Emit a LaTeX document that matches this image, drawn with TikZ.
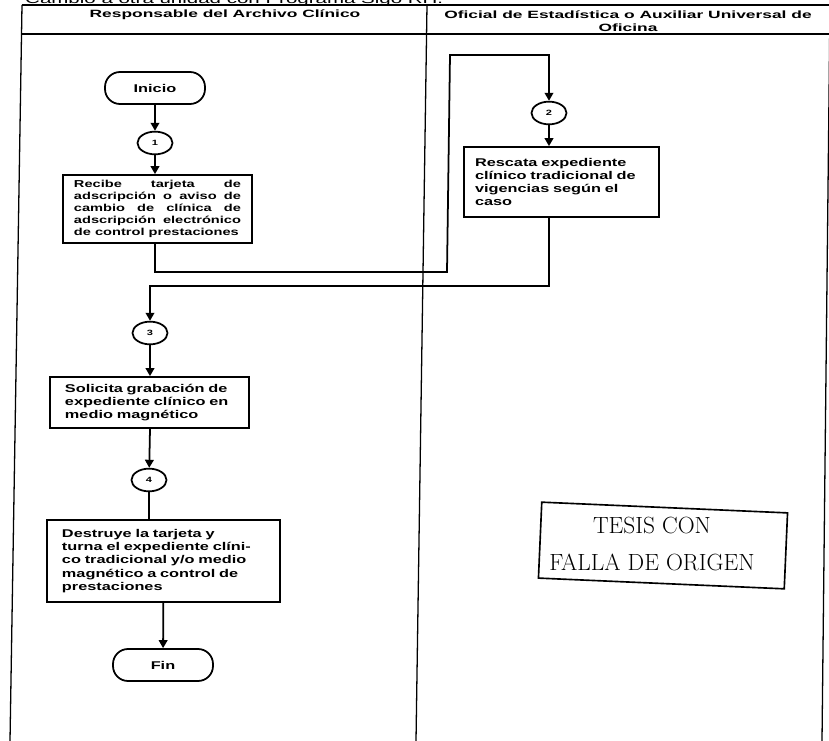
\documentclass[tikz,border=0pt]{standalone}
\usepackage{fontspec}
\newfontfamily\flowfont{Liberation Sans}[FakeStretch=1.45]
\newfontfamily\headfont{Liberation Sans}[FakeStretch=1.65]
\usetikzlibrary{positioning,arrows.meta,shapes.geometric}

\begin{document}
\begin{tikzpicture}[x=0.03cm, y=-0.03cm,
    lane/.style={line width=1.1pt},
    head/.style={font=\headfont\bfseries\fontsize{9}{11}\selectfont, inner sep=0pt, align=center},
    term/.style={draw, line width=1.5pt, rounded corners=0.45cm, minimum width=3cm,
                 minimum height=0.96cm, inner sep=0pt, font=\flowfont\bfseries\fontsize{9.6}{11}\selectfont},
    conn/.style={draw, ellipse, line width=1.5pt, minimum width=1.05cm, minimum height=0.68cm,
                 inner sep=0pt, font=\flowfont\bfseries\fontsize{6.5}{7}\selectfont},
    stepbox/.style={draw, line width=1.5pt, inner sep=0pt, align=left,
                    font=\flowfont\bfseries\fontsize{9.6}{11.2}\selectfont},
    stamp/.style={font=\fontsize{20}{31}\selectfont, align=center, inner sep=0pt},
    flow/.style={line width=1.5pt},
    arr/.style={flow, -{Triangle[length=2.4mm,width=2.6mm]}}]
  \useasboundingbox (0,0) rectangle (829,741);
  \clip (0,0) rectangle (829,741);

  \node[anchor=base west, inner sep=0pt, font=\headfont\fontsize{10.6}{12}\selectfont] (title) at (25,4)
       {Cambio a otra unidad con Programa Sigo RH.};

  \draw[lane] (22,5) -- (829,5);
  \draw[lane] (21,34) -- (829,34);
  \draw[lane] (22,5) -- (10,741);
  \draw[lane] (427,5) -- (416,741);
  \draw[lane] (830,5) -- (822,741);

  \node[head, anchor=base] (h1) at (225,18) {Responsable del Archivo Clínico};
  \node[head, anchor=north] (h2) at (628,10.5) {Oficial de Estadística o Auxiliar Universal de\\Oficina};

  \node[term]    (ini) at (155,88)  {Inicio};
  \node[conn]    (c1)  at (155,143) {1};
  \node[stepbox, align=justify, text width=5.01cm, minimum width=5.67cm, minimum height=2.04cm,
        font=\flowfont\bfseries\fontsize{8.6}{10.2}\selectfont] (b1) at (157.5,209)
       {Recibe tarjeta de\linebreak adscripción o aviso de\linebreak cambio de clínica de\linebreak
        adscripción electrónico\linebreak de control prestaciones};
  \node[conn]    (c2)  at (549,113) {2};
  \node[stepbox, text width=5.19cm, minimum width=5.85cm, minimum height=2.1cm] (b2) at (561.5,182)
       {Rescata expediente\\clínico tradicional de\\vigencias según el\\caso};
  \node[conn]    (c3)  at (150,333) {3};
  \node[stepbox, text width=5.07cm, minimum width=5.97cm, minimum height=1.53cm] (b3) at (149.5,402.5)
       {Solicita grabación de\\expediente clínico en\\medio magnético};
  \node[conn]    (c4)  at (149,480) {4};
  \node[stepbox, text width=6.09cm, minimum width=6.99cm, minimum height=2.46cm] (b4) at (163.5,561)
       {Destruye la tarjeta y\\turna el expediente clíni-\\co tradicional y/o medio\\magnético a control de\\prestaciones};
  \node[term]    (fin) at (163,665) {Fin};

  \coordinate (j1) at (447,272);
  \coordinate (j2) at (450,55);
  \coordinate (j3) at (150,286);

  \draw[arr]  (ini) -- (c1);
  \draw[arr]  (c1) -- (c1 |- b1.north);
  \draw[arr]  (c1 |- b1.south) |- (j1) -- (j2) -| (c2.north);
  \draw[arr]  (c2) -- (c2 |- b2.north);
  \draw[arr]  (c2 |- b2.south) |- (j3) -- (c3);
  \draw[arr]  (c3) -- (c3 |- b3.north);
  \draw[arr]  (c3 |- b3.south) -- (c4);
  \draw[flow] (c4) -- (c4 |- b4.north);
  \draw[arr]  (b4) -- (fin);

  \node[draw, line width=1.4pt, rotate=-2.5, minimum width=7.38cm, minimum height=2.28cm] (frame) at (663,545.5) {};
  \node[stamp] (tesis) at (652,544) {TESIS CON\\FALLA DE ORIGEN};
\end{tikzpicture}
\end{document}
